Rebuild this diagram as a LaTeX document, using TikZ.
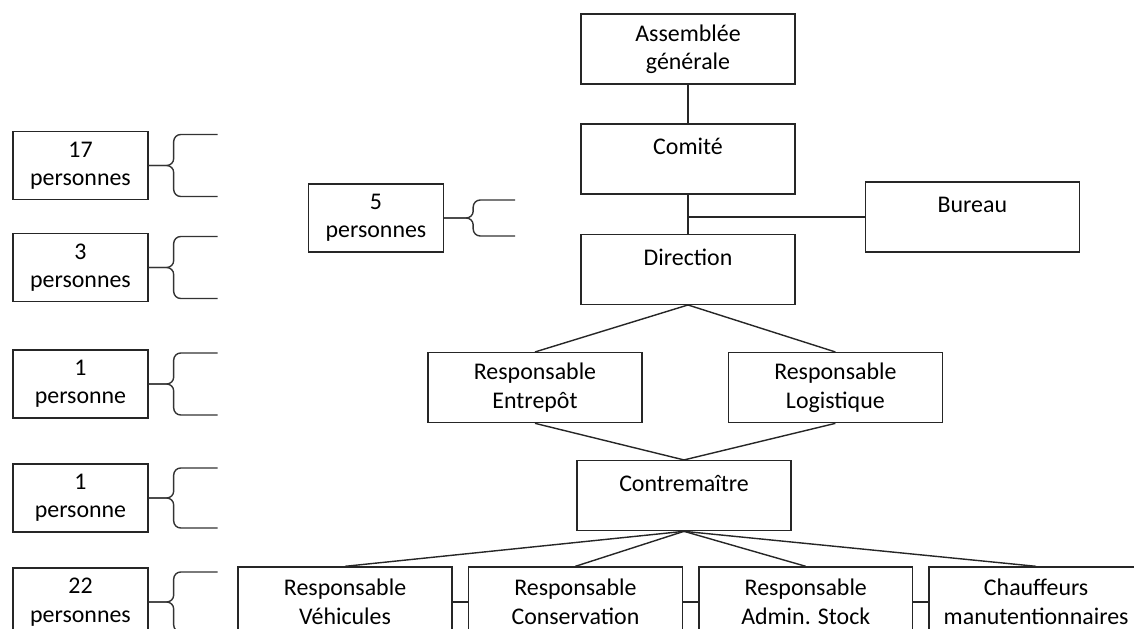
\documentclass[tikz,border=0pt]{standalone}
\usepackage{fontspec}
\setmainfont{Carlito}
\usetikzlibrary{positioning}

\begin{document}
\begin{tikzpicture}[
  x=0.02cm, y=-0.02cm,
  font=\fontsize{13.6}{16.2}\selectfont,
  every node/.style={align=center},
  box/.style={
    rectangle, draw=black!85, line width=0.8pt, fill=white,
    minimum width=4.28cm, minimum height=1.4cm, inner sep=0pt
  },
  count/.style={box, minimum width=2.7cm, minimum height=1.36cm},
  link/.style={draw=black!85, line width=0.8pt},
  brace/.style={draw=black!80, line width=0.8pt, rounded corners=4pt}
]
\clip (0,0) rectangle (1134,629);

% ================ chaine principale ================
\node[box] (assemblee) at (688,49) {Assemblée\\générale};
\node[box, below=0.77cm of assemblee] (comite) {\strut Comité\\[-5pt]\strut};
\node[box, right=1.38cm of comite, yshift=-1.16cm] (bureau) {\strut Bureau\\[-5pt]\strut};
\node[box, below=0.78cm of comite] (direction) {\strut Direction\\[-5pt]\strut};

\node[box, below=0.94cm of direction, xshift=-3.06cm] (entrepot)
  {Responsable\\Entrepôt};
\node[box, right=1.7cm of entrepot] (logistique)
  {Responsable\\Logistique};
\node[box, below=3.1cm of direction, xshift=-0.08cm] (contremaitre)
  {\strut Contremaître\\[-5pt]\strut};

% ================ ligne du bas ================
\node[box, below=0.7cm of contremaitre, xshift=-6.78cm] (vehicules)
  {Responsable\\Véhicules};
\node[box, right=0.3cm of vehicules] (conservation)
  {Responsable\\Conservation};
\node[box, right=0.3cm of conservation] (stock)
  {Responsable\\Admin. Stock};
\node[box, right=0.3cm of stock] (chauffeurs)
  {Chauffeurs\\manutentionnaires};

% ================ liaisons ================
\draw[link] (assemblee.south) -- (comite.north);
\draw[link] (comite.south) -- (direction.north);
\draw[link] (bureau.west) -- (bureau.west -| comite.south);
\draw[link] (direction.south) -- (entrepot.north);
\draw[link] (direction.south) -- (logistique.north);
\draw[link] (entrepot.south) -- (contremaitre.north);
\draw[link] (logistique.south) -- (contremaitre.north);
\foreach \n in {vehicules, conservation, stock, chauffeurs}
  \draw[link] (contremaitre.south) -- (\n.north);
\draw[link] (vehicules.east) -- (conservation.west);
\draw[link] (conservation.east) -- (stock.west);
\draw[link] (stock.east) -- (chauffeurs.west);

% ================ effectifs ================
\node[count] (p17) at (80.5,165.5) {17\\personnes};
\node[count] (p3) at (80.5,267.5) {3\\personnes};
\node[count] (p1a) at (80.5,384) {1\\personne};
\node[count] (p1b) at (80.5,498) {1\\personne};
\node[count] (p22) at (80.5,602) {22\\personnes};
\node[count] (p5) at (376,218) {5\\personnes};

% accolades
\foreach \p/\h in {p17/31, p3/31, p1a/31, p1b/30, p22/30} {
  \draw[brace] (\p.east) -- ++(25,0) |- ++(44,-\h);
  \draw[brace] (\p.east) -- ++(25,0) |- ++(44,\h);
}
\draw[brace] (p5.east) -- ++(29,0) |- ++(42,-18);
\draw[brace] (p5.east) -- ++(29,0) |- ++(42,18);
\end{tikzpicture}
\end{document}
